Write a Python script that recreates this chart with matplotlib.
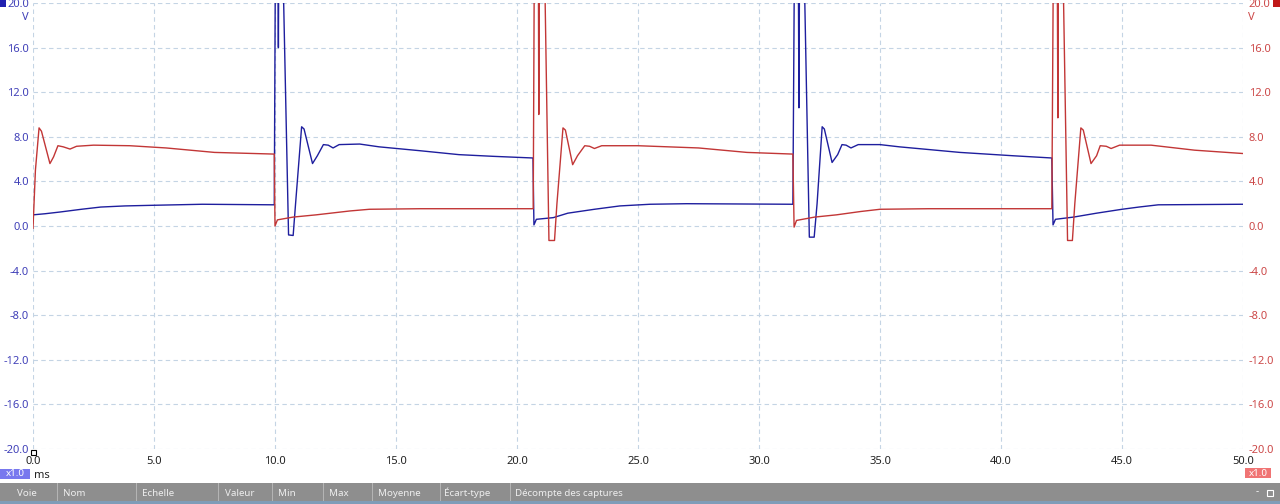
import matplotlib
matplotlib.use("Agg")
import matplotlib.pyplot as plt
from matplotlib.patches import Rectangle

plt.rcParams["font.family"] = ["Noto Sans", "DejaVu Sans"]

# Channel A (blue) -- time in ms, value in V (values above 20 are clipped spikes)
blue_t = [0.0, 0.5, 1.1, 2.0, 2.8, 3.8, 4.8, 7.0, 9.97,
          10.02, 10.12, 10.14, 10.16, 10.3, 10.56, 10.75, 10.85, 11.1, 11.2,
          11.55, 11.75, 12.0, 12.2, 12.4, 12.65, 13.5, 14.3, 16.0, 17.6, 19.0, 20.66,
          20.7, 20.8, 21.5, 22.1, 23.2, 24.25, 25.5, 27.0, 31.4,
          31.47, 31.62, 31.65, 31.68, 31.84, 32.08, 32.28, 32.4, 32.61, 32.7,
          33.02, 33.25, 33.43, 33.6, 33.8, 34.1, 35.0, 35.8, 38.3, 40.5, 42.1,
          42.15, 42.25, 43.0, 43.95, 45.0, 45.7, 46.5, 50.0]
blue_v = [1.0, 1.1, 1.25, 1.5, 1.7, 1.8, 1.85, 1.95, 1.9,
          26, 26, 16, 26, 26, -0.8, -0.85, 2.0, 8.9, 8.7,
          5.6, 6.3, 7.3, 7.25, 7.0, 7.3, 7.35, 7.1, 6.75, 6.4, 6.25, 6.1,
          0.1, 0.6, 0.75, 1.15, 1.5, 1.8, 1.95, 2.0, 1.95,
          26, 26, 10.6, 26, 26, -1.0, -1.0, 2.0, 8.9, 8.7,
          5.7, 6.4, 7.3, 7.25, 7.0, 7.3, 7.3, 7.1, 6.6, 6.3, 6.1,
          0.1, 0.6, 0.8, 1.15, 1.5, 1.7, 1.9, 1.95]

# Channel B (red)
red_t = [0.0, 0.1, 0.25, 0.35, 0.7, 0.85, 1.03, 1.25, 1.53, 1.8, 2.5, 4.0, 5.5, 7.5, 9.97,
         10.0, 10.1, 10.75, 11.7, 13.1, 13.9, 16.0, 20.67,
         20.72, 20.88, 20.9, 20.93, 21.12, 21.32, 21.55, 21.65, 21.9, 22.0,
         22.3, 22.5, 22.8, 23.0, 23.2, 23.5, 25.0, 27.5, 29.5, 31.4,
         31.45, 31.55, 32.3, 33.2, 34.2, 35.0, 37.0, 42.1,
         42.17, 42.32, 42.35, 42.38, 42.54, 42.75, 42.95, 43.05, 43.3, 43.4,
         43.72, 43.95, 44.1, 44.35, 44.55, 44.9, 46.2, 48.0, 50.0]
red_v = [-0.2, 5.0, 8.8, 8.5, 5.6, 6.2, 7.2, 7.1, 6.9, 7.15, 7.25, 7.2, 7.0, 6.6, 6.45,
         0.0, 0.55, 0.8, 1.0, 1.35, 1.5, 1.55, 1.55,
         26, 26, 10.0, 26, 26, -1.3, -1.3, 2.0, 8.8, 8.6,
         5.5, 6.3, 7.2, 7.15, 6.95, 7.2, 7.2, 7.0, 6.6, 6.45,
         -0.1, 0.5, 0.8, 1.0, 1.3, 1.5, 1.55, 1.55,
         26, 26, 9.7, 26, 26, -1.3, -1.3, 2.0, 8.8, 8.6,
         5.6, 6.3, 7.2, 7.15, 6.95, 7.25, 7.25, 6.8, 6.5]

x_ticks = [0, 5, 10, 15, 20, 25, 30, 35, 40, 45, 50]
y_ticks = [-20, -16, -12, -8, -4, 0, 4, 8, 12, 16, 20]
columns = ["Voie", "Nom", "Echelle", "Valeur", "Min", "Max", "Moyenne",
           "Écart-type", "Décompte des captures"]
col_x = [17, 63, 142, 225, 278, 329, 378, 444, 515]
sep_x = [57, 136, 218, 272, 323, 372, 440, 510]

BLUE = "#1e1e9e"
RED = "#c23636"
W, H = 1280, 504

fig = plt.figure(figsize=(12.8, 5.04), dpi=100)
fig.patch.set_facecolor("white")
ax = fig.add_axes([33 / W, 1 - 449 / H, (1243 - 33) / W, (449 - 3) / H])
ax.set_xlim(0, 50)
ax.set_ylim(-20, 20)
for s in ax.spines.values():
    s.set_visible(False)

ax.set_xticks(x_ticks)
ax.set_xticklabels([f"{v:.1f}" for v in x_ticks])
ax.set_yticks(y_ticks)
ax.set_yticklabels([f"{v:.1f}" for v in y_ticks])
ax.tick_params(axis="both", length=0, labelsize=8)
ax.tick_params(axis="x", pad=5, labelcolor="#222222")
ax.tick_params(axis="y", pad=3, labelcolor="#4040b8")
ax.grid(True, color="#c4d4e4", linestyle=(0, (4, 3)), linewidth=0.8)

ax2 = ax.twinx()
ax2.set_ylim(-20, 20)
ax2.set_yticks(y_ticks)
ax2.set_yticklabels([f"{v:.1f}" for v in y_ticks])
ax2.tick_params(axis="y", length=0, labelsize=8, pad=4, labelcolor="#cc4848")
for s in ax2.spines.values():
    s.set_visible(False)

ax.plot(blue_t, blue_v, color=BLUE, linewidth=1.0)
ax.plot(red_t, red_v, color=RED, linewidth=1.0)

# unit labels and channel markers
fig.text(29 / W, 1 - 18 / H, "V", color="#4040b8", fontsize=8, ha="right", va="center")
fig.text(1248 / W, 1 - 18 / H, "V", color="#cc4848", fontsize=8, ha="left", va="center")
fig.patches.append(Rectangle((0, 1 - 7 / H), 6 / W, 7 / H, transform=fig.transFigure,
                             facecolor="#2020b0", edgecolor="none"))
fig.patches.append(Rectangle((1273 / W, 1 - 7 / H), 7 / W, 7 / H, transform=fig.transFigure,
                             facecolor="#c01818", edgecolor="none"))
fig.patches.append(Rectangle((31 / W, 1 - 455 / H), 5 / W, 5 / H, transform=fig.transFigure,
                             facecolor="white", edgecolor="black", linewidth=0.8))

# scale boxes
fig.patches.append(Rectangle((0, 1 - 479 / H), 30 / W, 10 / H, transform=fig.transFigure,
                             facecolor="#7878ee", edgecolor="none"))
fig.text(15 / W, 1 - 474 / H, "x1.0", color="white", fontsize=7, ha="center", va="center")
fig.text(34 / W, 1 - 475 / H, "ms", color="#222222", fontsize=8, ha="left", va="center")
fig.patches.append(Rectangle((1245 / W, 1 - 478 / H), 26 / W, 10 / H, transform=fig.transFigure,
                             facecolor="#f07474", edgecolor="none"))
fig.text(1258 / W, 1 - 473 / H, "x1.0", color="white", fontsize=7, ha="center", va="center")

# bottom status bar
fig.patches.append(Rectangle((0, 3 / H), 1, 18 / H, transform=fig.transFigure,
                             facecolor="#8e8e8e", edgecolor="none"))
fig.patches.append(Rectangle((0, 0), 1, 3 / H, transform=fig.transFigure,
                             facecolor="#7f9cb8", edgecolor="none"))
for name, x in zip(columns, col_x):
    fig.text(x / W, 1 - 496 / H, name, color="#eeeeee", fontsize=7, ha="left",
             va="baseline")
for x in sep_x:
    fig.patches.append(Rectangle((x / W, 3 / H), 1 / W, 18 / H, transform=fig.transFigure,
                                 facecolor="#b4b4b4", edgecolor="none"))
fig.text(1257 / W, 1 - 492 / H, "-", color="white", fontsize=7, ha="center", va="center")
fig.patches.append(Rectangle((1267 / W, 1 - 496 / H), 6 / W, 6 / H, transform=fig.transFigure,
                             facecolor="none", edgecolor="white", linewidth=0.8))

fig.savefig("out.png", dpi=100)
